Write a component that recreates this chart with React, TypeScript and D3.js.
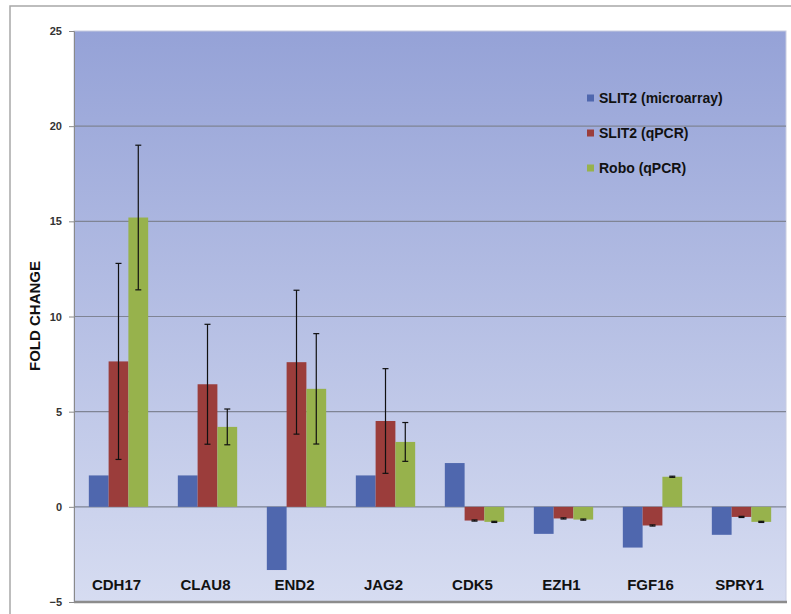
import React, { useRef, useEffect } from "react";
import * as d3 from "d3";

const genes = ["CDH17", "CLAU8", "END2", "JAG2", "CDK5", "EZH1", "FGF16", "SPRY1"];
const seriesNames = ["SLIT2 (microarray)", "SLIT2 (qPCR)", "Robo (qPCR)"];
const microarray = [1.65, 1.65, -3.32, 1.65, 2.3, -1.42, -2.14, -1.47];
const slit2Qpcr = [7.64, 6.44, 7.6, 4.51, -0.72, -0.61, -0.98, -0.53];
const roboQpcr = [15.2, 4.2, 6.2, 3.41, -0.79, -0.67, 1.58, -0.79];
const slit2Err = [5.15, 3.15, 3.78, 2.75, 0.03, 0.03, 0.03, 0.03];
const roboErr = [3.8, 0.94, 2.9, 1.02, 0.03, 0.03, 0.03, 0.03];
const yTicks = [-5, 0, 5, 10, 15, 20, 25];

const colors = ["#4f67ae", "#9b3d3b", "#97b24c"];

export default function App() {
  const ref = useRef<SVGSVGElement>(null);
  const W = 791;
  const H = 614;
  const left = 74;
  const right = 786;
  const top = 31;
  const bottom = 602;

  useEffect(() => {
    if (!ref.current) return;
    const svg = d3.select(ref.current);
    svg.selectAll("*").remove();

    const x = d3.scaleBand().domain(genes).range([left, right]).paddingInner(0).paddingOuter(0);
    const y = d3.scaleLinear().domain([-5, 25]).range([bottom, top]);
    const bw = x.bandwidth() / 4.5;
    const x1 = d3.scaleBand().domain(seriesNames).range([0, bw * 3]);

    // background gradient
    const defs = svg.append("defs");
    const grad = defs.append("linearGradient").attr("id", "bg").attr("x1", 0).attr("y1", 0).attr("x2", 0).attr("y2", 1);
    grad.append("stop").attr("offset", "0%").attr("stop-color", "#95a2d7");
    grad.append("stop").attr("offset", "100%").attr("stop-color", "#d6dcf1");

    // outer border
    svg.append("rect")
      .attr("x", 10).attr("y", 6).attr("width", W).attr("height", H)
      .attr("fill", "#fff").attr("stroke", "#a8a8a8").attr("stroke-width", 1.5);

    svg.append("rect")
      .attr("x", left).attr("y", top).attr("width", right - left).attr("height", bottom - top)
      .attr("fill", "url(#bg)").attr("stroke", "#c8cce0").attr("stroke-width", 1);

    // gridlines
    svg.append("g").selectAll("line")
      .data(yTicks.filter((t) => t > -5 && t < 25))
      .join("line")
      .attr("x1", left).attr("x2", right)
      .attr("y1", (d) => y(d)).attr("y2", (d) => y(d))
      .attr("stroke", "#7f8494").attr("stroke-width", 1.2);

    // y axis
    const yAxis = svg.append("g")
      .attr("transform", `translate(${left},0)`)
      .call(d3.axisLeft(y).tickValues(yTicks).tickSize(5).tickPadding(7));
    yAxis.select(".domain").attr("stroke", "#8a8a8a");
    yAxis.selectAll(".tick line").attr("stroke", "#8a8a8a");
    yAxis.selectAll(".tick text")
      .attr("font-family", "Liberation Sans, Arial, sans-serif")
      .attr("font-size", 11).attr("font-weight", "bold").attr("fill", "#333");

    // bottom axis line
    svg.append("line")
      .attr("x1", left).attr("x2", right + 1)
      .attr("y1", bottom).attr("y2", bottom)
      .attr("stroke", "#8c8c8c").attr("stroke-width", 2.5);

    const allSeries = [microarray, slit2Qpcr, roboQpcr];
    const errs = [null, slit2Err, roboErr];

    allSeries.forEach((vals, si) => {
      const g = svg.append("g");
      g.selectAll("rect")
        .data(vals)
        .join("rect")
        .attr("x", (_, i) => (x(genes[i]) as number) + bw * 0.75 + (x1(seriesNames[si]) as number))
        .attr("width", x1.bandwidth())
        .attr("y", (d) => y(Math.max(0, d)))
        .attr("height", (d) => Math.abs(y(d) - y(0)))
        .attr("fill", colors[si]);
    });

    errs.forEach((e, si) => {
      if (!e) return;
      const vals = allSeries[si];
      const g = svg.append("g").attr("stroke", "#111").attr("stroke-width", 1.2);
      e.forEach((err, i) => {
        const cx = (x(genes[i]) as number) + bw * 0.75 + (x1(seriesNames[si]) as number) + x1.bandwidth() / 2;
        const y0 = y(vals[i] - err);
        const y1 = y(vals[i] + err);
        g.append("line").attr("x1", cx).attr("x2", cx).attr("y1", y0).attr("y2", y1);
        g.append("line").attr("x1", cx - 3).attr("x2", cx + 3).attr("y1", y0).attr("y2", y0);
        g.append("line").attr("x1", cx - 3).attr("x2", cx + 3).attr("y1", y1).attr("y2", y1);
      });
    });

    // category labels
    svg.append("g").selectAll("text")
      .data(genes)
      .join("text")
      .attr("x", (d) => (x(d) as number) + x.bandwidth() / 2 - 2)
      .attr("y", 590)
      .attr("text-anchor", "middle")
      .attr("font-family", "Liberation Sans, Arial, sans-serif")
      .attr("font-size", 15).attr("font-weight", "bold").attr("fill", "#111")
      .text((d) => d);

    // y title
    svg.append("text")
      .attr("transform", `translate(40,316) rotate(-90)`)
      .attr("text-anchor", "middle")
      .attr("font-family", "Liberation Sans, Arial, sans-serif")
      .attr("font-size", 15).attr("font-weight", "bold").attr("fill", "#111")
      .text("FOLD CHANGE");

    // legend
    const lg = svg.append("g").attr("transform", "translate(587,98)");
    seriesNames.forEach((n, i) => {
      const row = lg.append("g").attr("transform", `translate(0,${i * 35})`);
      row.append("rect").attr("x", 0).attr("y", -3.5).attr("width", 7).attr("height", 7).attr("fill", colors[i]);
      row.append("text")
        .attr("x", 12).attr("y", 5)
        .attr("font-family", "Liberation Sans, Arial, sans-serif")
        .attr("font-size", 14).attr("font-weight", "bold").attr("fill", "#111")
        .text(n);
    });
  }, []);

  return (
    <svg
      ref={ref}
      width={W}
      height={H}
      style={{ position: "absolute", left: 0, top: 0, background: "#fff" }}
    />
  );
}
